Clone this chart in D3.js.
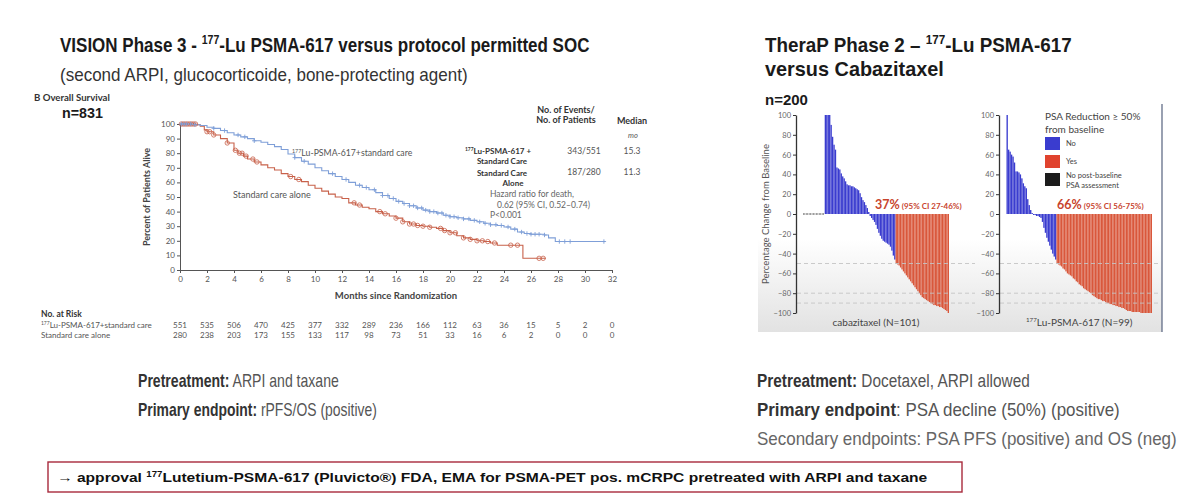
<!DOCTYPE html>
<html>
<head>
<meta charset="utf-8">
<script src="https://cdn.jsdelivr.net/npm/d3@7"></script>
<style>
  body { margin: 0; background: #fff; }
  svg { display: block; }
</style>
</head>
<body>
<div id="slide"></div>
<script>
// ---- VISION: overall survival ----
const monthTicks = [0, 2, 4, 6, 8, 10, 12, 14, 16, 18, 20, 22, 24, 26, 28, 30, 32];
const percentTicks = [0, 10, 20, 30, 40, 50, 60, 70, 80, 90, 100];

const luTimes = [0, 1, 1.5, 2, 2.5, 3, 3.5, 4, 4.5, 5, 5.5, 6, 6.5, 7, 7.5, 8, 8.5, 9, 9.5, 10,
    10.5, 11, 11.5, 12, 12.5, 13, 13.5, 14, 14.5, 15, 15.5, 16, 16.5, 17, 17.5, 18, 18.5, 19, 19.5, 20,
    20.5, 21, 21.5, 22, 22.5, 23, 23.5, 24, 24.5, 25, 25.5, 26, 27, 27.3, 27.8, 31.5];
const luSurv = [100, 99.5, 99, 97.8, 97, 95.5, 94, 92.5, 91.2, 90, 88.5, 87.5, 86, 84.5, 82.5, 79.5, 77, 74.5, 72.5, 70,
    68, 66, 64, 62, 60, 58, 56.5, 55, 53, 51, 49, 47, 45.5, 44, 42.5, 41, 40, 39, 37.5, 36.5,
    35.8, 35, 34, 33, 32, 31, 30.5, 29.5, 28, 26, 25, 24.5, 24, 22, 19.5, 19.5];

const socTimes = [0, 1.2, 1.5, 1.8, 2, 2.5, 3, 3.5, 4, 4.3, 4.7, 5, 5.5, 6, 6.5, 7, 7.5, 8, 8.5, 9,
    9.5, 10, 10.5, 11, 11.5, 12, 12.5, 13, 13.5, 14, 14.5, 15, 15.5, 16, 16.5, 17, 17.5, 18, 18.5, 19,
    19.5, 20, 20.5, 21, 21.5, 22, 22.5, 23, 23.5, 25.4, 27.1];
const socSurv = [100, 99.5, 98.5, 96, 94.7, 92.5, 90, 87, 82, 80, 78, 76, 74, 72, 70, 68.5, 66, 64, 62, 60.5,
    58, 56, 54, 52, 50, 49, 46, 44.5, 43, 42, 40, 38.5, 37, 35.5, 33, 31.5, 30.5, 30, 29.3, 28.5,
    27, 25.5, 23.5, 22, 21, 20, 19.5, 18.5, 17, 8, 8];

const luCensor = [0.1, 0.3, 0.5, 0.8, 1.1, 2.5, 3.3, 4.3, 4.8, 5.5, 8.5, 9.2, 11.3, 12.3, 13.3, 13.8,
    14.4, 15, 15.4, 15.8, 16.2, 16.6, 17, 17.3, 17.6, 17.9, 18.2, 18.5, 18.8, 19.1, 19.4, 19.7, 20,
    20.3, 20.6, 21, 21.4, 21.8, 22.2, 22.6, 23, 23.4, 23.8, 24.3, 24.8, 25.3, 25.7, 26, 26.3, 26.6,
    27, 28.1, 28.5, 28.9, 31.4];
const socCensor = [0.1, 0.25, 0.4, 0.55, 0.7, 0.85, 1, 1.15, 2, 2.2, 2.5, 3.5, 4.1, 4.4, 4.6, 4.9,
    5.4, 5.7, 8.2, 8.8, 12.9, 13.3, 14.8, 15.2, 16, 16.5, 17, 17.3, 17.6, 18, 18.5, 19.3, 19.6, 20,
    20.4, 21, 21.5, 22, 22.4, 22.8, 23.3, 24.5, 25, 26.6, 26.9];

const riskLu = [551, 535, 506, 470, 425, 377, 332, 289, 236, 166, 112, 63, 36, 15, 5, 2, 0];
const riskSoc = [280, 238, 203, 173, 155, 133, 117, 98, 73, 51, 33, 16, 6, 2, 0, 0, 0];

// ---- TheraP: PSA waterfall, % change from baseline per patient ----
const waterfallTicks = [-100, -80, -60, -40, -20, 0, 20, 40, 60, 80, 100];
const refLines = [-50, -80, -90];

const cabaMissing = 15;   // no post-baseline PSA assessment
const cabaNo = [100, 100, 100, 100, 90, 78, 70, 65, 47, 46, 45, 41, 38, 36, 33, 30, 29, 29, 28, 28,
    27, 26, 25, 24, 21, 17, 14, 12, 9, 6, 2,
    -2, -4, -6, -8, -11, -15, -19, -22, -25, -27, -28, -29, -30, -31, -33, -37, -42, -46];
const cabaYes = [-50, -51, -52, -54, -56, -58, -60, -62, -64, -66, -68, -70, -72, -74, -76, -78, -80, -82,
    -84, -85, -86, -87, -88, -89, -90, -91, -92, -92, -93, -93, -94, -94, -95, -96, -97, -98, -100];

const luMissing = 0;
const luNo = [100, 65, 63, 60, 58, 52, 43, 43, 42, 40, 36, 31, 28, 26, 15, 9, 4, 1,
    -1, -1, -2, -2, -3, -4, -8, -14, -19, -24, -28, -32, -36, -40, -43, -46];
const luYes = [-50, -51, -52, -53, -55, -56, -58, -60, -61, -62, -63, -65, -66, -68, -69, -71, -72, -73,
    -75, -76, -77, -78, -79, -80, -82, -83, -84, -85, -86, -86, -87, -88, -88, -89, -90, -90, -91, -91,
    -92, -92, -93, -93, -94, -94, -95, -95, -96, -97, -98, -98, -98, -99, -99, -99, -99, -99, -99,
    -100, -100, -100, -100, -100, -100, -100, -100];

const SLIDE_FONT = "'Liberation Sans', Arial, sans-serif";
const CHART_FONT = "Lato, 'Open Sans', sans-serif";
const BLUE_LINE = "#7f9fd8";
const RED_LINE = "#c8614a";
const BAR_BLUE = "#3a3ccf";
const BAR_RED = "#d9573b";

const svg = d3.select("#slide").append("svg")
    .attr("width", 1200)
    .attr("height", 501)
    .attr("viewBox", "0 0 1200 501");

// text with optional superscript / bold pieces; `width` squeezes it horizontally
function rich(parent, x, y, size, parts, opt = {}) {
    const t = parent.append("text")
        .attr("x", x)
        .attr("y", y)
        .attr("text-anchor", opt.anchor || "start")
        .style("font-family", opt.font || SLIDE_FONT)
        .style("font-size", `${size}px`)
        .style("font-weight", opt.weight || "normal")
        .style("font-style", opt.style || "normal")
        .style("fill", opt.fill || "#222");
    let raised = false;
    parts.forEach(p => {
        const s = t.append("tspan").text(p.text);
        if (p.sup) {
            s.style("font-size", `${size * 0.62}px`).attr("dy", -size * 0.38);
            raised = true;
        } else if (raised) {
            s.attr("dy", size * 0.38);
            raised = false;
        }
        if (p.bold) s.style("font-weight", "bold");
        if (p.fill) s.style("fill", p.fill);
        if (p.size) s.style("font-size", `${p.size}px`);
    });
    if (opt.width) {
        const natural = t.node().getComputedTextLength();
        t.attr("x", 0).attr("y", 0)
            .attr("transform", `translate(${x}, ${y}) scale(${opt.width / natural}, 1)`);
    }
    return t;
}

// ---------- slide headings ----------
rich(svg, 60, 52, 20, [{ text: "VISION Phase 3 - " }, { text: "177", sup: true }, { text: "-Lu PSMA-617 versus protocol permitted SOC" }],
    { weight: "bold", fill: "#1a1a1a", width: 530 });
rich(svg, 60, 81, 17.5, [{ text: "(second ARPI, glucocorticoide, bone-protecting agent)" }],
    { fill: "#333", width: 408 });

rich(svg, 765, 52, 20, [{ text: "TheraP Phase 2 – " }, { text: "177", sup: true }, { text: "-Lu PSMA-617" }],
    { weight: "bold", fill: "#1a1a1a", width: 307 });
rich(svg, 765, 76, 20, [{ text: "versus Cabazitaxel" }], { weight: "bold", fill: "#1a1a1a", width: 179 });
rich(svg, 765, 105, 14, [{ text: "n=200" }], { weight: "bold", fill: "#1a1a1a", width: 43 });

// ---------- Kaplan-Meier panel ----------
const km = svg.append("g").attr("class", "km");
const xKM = d3.scaleLinear().domain([0, 32]).range([180, 612]);
const yKM = d3.scaleLinear().domain([0, 100]).range([270, 124]);

rich(km, 34, 101, 8.5, [{ text: "B", bold: true }, { text: "  Overall Survival", bold: true }],
    { font: CHART_FONT, fill: "#333", width: 76 });
rich(km, 62, 118, 14, [{ text: "n=831" }], { weight: "bold", fill: "#1a1a1a", width: 41 });

km.append("g")
    .attr("transform", `translate(0, ${yKM(0)})`)
    .call(d3.axisBottom(xKM).tickValues(monthTicks).tickSize(3).tickSizeOuter(0).tickPadding(3))
    .call(g => g.select(".domain").attr("stroke", "#555"))
    .call(g => g.selectAll(".tick line").attr("stroke", "#555"))
    .call(g => g.selectAll(".tick text")
        .style("font-family", CHART_FONT)
        .style("font-size", "8px")
        .style("fill", "#555"));

km.append("g")
    .attr("transform", `translate(${xKM(0)}, 0)`)
    .call(d3.axisLeft(yKM).tickValues(percentTicks).tickSize(3).tickSizeOuter(0).tickPadding(2))
    .call(g => g.select(".domain").attr("stroke", "#555"))
    .call(g => g.selectAll(".tick line").attr("stroke", "#555"))
    .call(g => g.selectAll(".tick text")
        .style("font-family", CHART_FONT)
        .style("font-size", "8px")
        .style("fill", "#555"));

km.append("text")
    .attr("transform", `translate(150, ${yKM(50)}) rotate(-90)`)
    .attr("text-anchor", "middle")
    .style("font-family", CHART_FONT)
    .style("font-size", "9px")
    .style("font-weight", "bold")
    .style("fill", "#444")
    .text("Percent of Patients Alive");

km.append("text")
    .attr("x", xKM(16))
    .attr("y", 299)
    .attr("text-anchor", "middle")
    .style("font-family", CHART_FONT)
    .style("font-size", "9.5px")
    .style("font-weight", "bold")
    .style("fill", "#444")
    .text("Months since Randomization");

const stepLine = d3.line()
    .x(d => xKM(d[0]))
    .y(d => yKM(d[1]))
    .curve(d3.curveStepAfter);

const survAt = (times, surv, t) => surv[Math.max(0, d3.bisectRight(times, t) - 1)];

km.append("path")
    .datum(d3.zip(socTimes, socSurv))
    .attr("d", stepLine)
    .attr("fill", "none")
    .attr("stroke", RED_LINE)
    .attr("stroke-width", 1.1);

km.append("path")
    .datum(d3.zip(luTimes, luSurv))
    .attr("d", stepLine)
    .attr("fill", "none")
    .attr("stroke", BLUE_LINE)
    .attr("stroke-width", 1.1);

km.selectAll(".soc-censor")
    .data(socCensor)
    .join("circle")
    .attr("class", "soc-censor")
    .attr("cx", d => xKM(d))
    .attr("cy", d => yKM(survAt(socTimes, socSurv, d)))
    .attr("r", 2.2)
    .attr("fill", "none")
    .attr("stroke", RED_LINE)
    .attr("stroke-width", 0.8);

km.selectAll(".lu-censor")
    .data(luCensor)
    .join("path")
    .attr("class", "lu-censor")
    .attr("transform", d => `translate(${xKM(d)}, ${yKM(survAt(luTimes, luSurv, d))})`)
    .attr("d", "M-2.2,0H2.2M0,-2.2V2.2")
    .attr("stroke", BLUE_LINE)
    .attr("stroke-width", 0.9);

rich(km, 292, 156, 8.7, [{ text: "177", sup: true }, { text: "Lu-PSMA-617+standard care" }], { font: CHART_FONT, fill: "#555" });
rich(km, 233, 198, 9, [{ text: "Standard care alone" }], { font: CHART_FONT, fill: "#555" });

// events / median table
const tbl = km.append("g");
const head = { font: CHART_FONT, weight: "bold", fill: "#333", anchor: "middle" };
const cell = { font: CHART_FONT, fill: "#555", anchor: "middle" };
rich(tbl, 566, 113, 9, [{ text: "No. of Events/" }], head);
rich(tbl, 566, 123, 9, [{ text: "No. of Patients" }], head);
rich(tbl, 632, 124, 9, [{ text: "Median" }], head);
rich(tbl, 633, 138, 7.5, [{ text: "mo" }], { ...cell, style: "italic" });
rich(tbl, 498, 154, 8, [{ text: "177", sup: true }, { text: "Lu-PSMA-617 +" }], head);
rich(tbl, 502, 164, 8, [{ text: "Standard Care" }], head);
rich(tbl, 502, 176, 8, [{ text: "Standard Care" }], head);
rich(tbl, 513, 186, 8, [{ text: "Alone" }], head);
rich(tbl, 584, 154, 8.5, [{ text: "343/551" }], cell);
rich(tbl, 584, 175, 8.5, [{ text: "187/280" }], cell);
rich(tbl, 632, 154, 8.5, [{ text: "15.3" }], cell);
rich(tbl, 632, 175, 8.5, [{ text: "11.3" }], cell);
rich(tbl, 490, 197, 8.5, [{ text: "Hazard ratio for death," }], { font: CHART_FONT, fill: "#666" });
rich(tbl, 497, 208, 8.5, [{ text: "0.62 (95% CI, 0.52–0.74)" }], { font: CHART_FONT, fill: "#666" });
rich(tbl, 490, 218, 8.5, [{ text: "P<0.001" }], { font: CHART_FONT, fill: "#666" });

// number at risk
rich(km, 41, 317, 8.5, [{ text: "No. at Risk" }], { font: CHART_FONT, weight: "bold", fill: "#333" });
rich(km, 41, 328, 8, [{ text: "177", sup: true }, { text: "Lu-PSMA-617+standard care" }], { font: CHART_FONT, fill: "#555" });
rich(km, 41, 338, 8, [{ text: "Standard care alone" }], { font: CHART_FONT, fill: "#555" });

[[riskLu, 328], [riskSoc, 338]].forEach(([row, yy]) => {
    km.append("g").selectAll("text")
        .data(row)
        .join("text")
        .attr("x", (d, i) => xKM(monthTicks[i]))
        .attr("y", yy)
        .attr("text-anchor", "middle")
        .style("font-family", CHART_FONT)
        .style("font-size", "8px")
        .style("fill", "#555")
        .text(d => d);
});

// ---------- TheraP waterfall panel ----------
const wf = svg.append("g").attr("class", "waterfall");
const grad = svg.append("defs").append("linearGradient")
    .attr("id", "panelShade")
    .attr("x1", 0).attr("x2", 0).attr("y1", 0).attr("y2", 1);
grad.append("stop").attr("offset", "0%").attr("stop-color", "#ffffff");
grad.append("stop").attr("offset", "58%").attr("stop-color", "#ffffff");
grad.append("stop").attr("offset", "100%").attr("stop-color", "#e2e2e2");

wf.append("rect")
    .attr("x", 758)
    .attr("y", 110)
    .attr("width", 404)
    .attr("height", 222)
    .attr("fill", "url(#panelShade)");

wf.append("line")
    .attr("x1", 1162).attr("x2", 1162)
    .attr("y1", 104).attr("y2", 332)
    .attr("stroke", "#56627e")
    .attr("stroke-width", 1.2);

const yWF = d3.scaleLinear().domain([-100, 100]).range([313, 115]);

function buildPatients(missing, no, yes) {
    return [
        ...d3.range(missing).map(() => ({ value: 0, group: "missing" })),
        ...no.map(v => ({ value: v, group: "no" })),
        ...yes.map(v => ({ value: v, group: "yes" }))
    ];
}

function drawWaterfall(patients, axisX, barStart, barEnd, lineEnd, label, pct, ci, labelX) {
    const g = wf.append("g");
    const xb = d3.scaleBand()
        .domain(d3.range(patients.length))
        .range([barStart, barEnd])
        .paddingInner(0.08);

    g.selectAll("rect")
        .data(patients)
        .join("rect")
        .attr("x", (d, i) => xb(i))
        .attr("width", (d) => d.group === "missing" ? xb.bandwidth() * 0.55 : xb.bandwidth())
        .attr("y", d => d.group === "missing" ? yWF(0) - 0.6 : yWF(Math.max(0, d.value)))
        .attr("height", d => d.group === "missing" ? 1.2 : Math.abs(yWF(d.value) - yWF(0)))
        .attr("fill", d => d.group === "yes" ? BAR_RED : d.group === "no" ? BAR_BLUE : "#222");

    g.selectAll(".ref")
        .data(refLines)
        .join("line")
        .attr("class", "ref")
        .attr("x1", axisX + 1)
        .attr("x2", lineEnd)
        .attr("y1", d => yWF(d))
        .attr("y2", d => yWF(d))
        .attr("stroke", "#c4c4c4")
        .attr("stroke-width", 0.9)
        .attr("stroke-dasharray", "4,3");

    g.append("g")
        .attr("transform", `translate(${axisX}, 0)`)
        .call(d3.axisLeft(yWF).tickValues(waterfallTicks).tickSize(3).tickSizeOuter(0).tickPadding(2))
        .call(s => s.select(".domain").attr("stroke", "#333").attr("stroke-width", 1.3))
        .call(s => s.selectAll(".tick line").attr("stroke", "#333"))
        .call(s => s.selectAll(".tick text")
            .style("font-family", CHART_FONT)
            .style("font-size", "7.5px")
            .style("fill", "#666"));

    rich(g, (barStart + barEnd) / 2, 326, 10, label, { font: CHART_FONT, fill: "#444", anchor: "middle" });
    rich(g, labelX, 209, 12.5, [{ text: pct, bold: true }, { text: ci, bold: true, size: 8 }],
        { font: CHART_FONT, fill: "#c8442e" });
}

drawWaterfall(buildPatients(cabaMissing, cabaNo, cabaYes), 796, 803, 949, 975,
    [{ text: "cabazitaxel (N=101)" }], "37%", " (95% CI 27-46%)", 875);
drawWaterfall(buildPatients(luMissing, luNo, luYes), 999, 1006.5, 1152, 1160,
    [{ text: "177", sup: true }, { text: "Lu-PSMA-617 (N=99)" }], "66%", " (95% CI 56-75%)", 1057);

wf.append("text")
    .attr("transform", `translate(769, ${yWF(0)}) rotate(-90)`)
    .attr("text-anchor", "middle")
    .style("font-family", CHART_FONT)
    .style("font-size", "9.5px")
    .style("fill", "#555")
    .text("Percentage Change from Baseline");

// legend
const legendItems = [
    { label: ["No"], color: BAR_BLUE, y: 137 },
    { label: ["Yes"], color: "#e0432e", y: 155 },
    { label: ["No post-baseline", "PSA assessment"], color: "#1c1c1c", y: 173 }
];
rich(wf, 1045, 120, 10, [{ text: "PSA Reduction ≥ 50%" }], { font: CHART_FONT, fill: "#444" });
rich(wf, 1045, 133, 10, [{ text: "from baseline" }], { font: CHART_FONT, fill: "#444" });
const leg = wf.append("g").selectAll("g")
    .data(legendItems)
    .join("g")
    .attr("transform", d => `translate(1045, ${d.y})`);
leg.append("rect")
    .attr("width", 15)
    .attr("height", 13)
    .attr("fill", d => d.color);
leg.each(function (d) {
    d.label.forEach((line, i) => {
        d3.select(this).append("text")
            .attr("x", 21)
            .attr("y", d.label.length > 1 ? 5 + i * 10 : 9)
            .style("font-family", CHART_FONT)
            .style("font-size", "7.5px")
            .style("fill", "#444")
            .text(line);
    });
});

// ---------- bottom notes ----------
const notes = svg.append("g");
rich(notes, 138, 387, 18, [{ text: "Pretreatment:", bold: true, fill: "#333" }, { text: " ARPI and taxane" }],
    { fill: "#555", width: 201 });
rich(notes, 138, 416, 18, [{ text: "Primary endpoint:", bold: true, fill: "#333" }, { text: " rPFS/OS (positive)" }],
    { fill: "#555", width: 239 });
rich(notes, 757, 387, 18, [{ text: "Pretreatment:", bold: true, fill: "#333" }, { text: " Docetaxel, ARPI allowed" }],
    { fill: "#555", width: 273 });
rich(notes, 757, 416, 18, [{ text: "Primary endpoint", bold: true, fill: "#333" }, { text: ": PSA decline (50%) (positive)" }],
    { fill: "#555", width: 363 });
rich(notes, 757, 445, 18, [{ text: "Secondary endpoints: PSA PFS (positive) and OS (neg)" }],
    { fill: "#666", width: 420 });

notes.append("rect")
    .attr("x", 48)
    .attr("y", 462)
    .attr("width", 914)
    .attr("height", 30)
    .attr("fill", "none")
    .attr("stroke", "#a82a3c")
    .attr("stroke-width", 1.4);
rich(notes, 57, 482, 13.5, [{ text: "→ approval " }, { text: "177", sup: true }, { text: "Lutetium-PSMA-617 (Pluvicto®) FDA, EMA for PSMA-PET pos. mCRPC pretreated with ARPI and taxane" }],
    { weight: "bold", fill: "#111", width: 871 });
</script>
</body>
</html>
